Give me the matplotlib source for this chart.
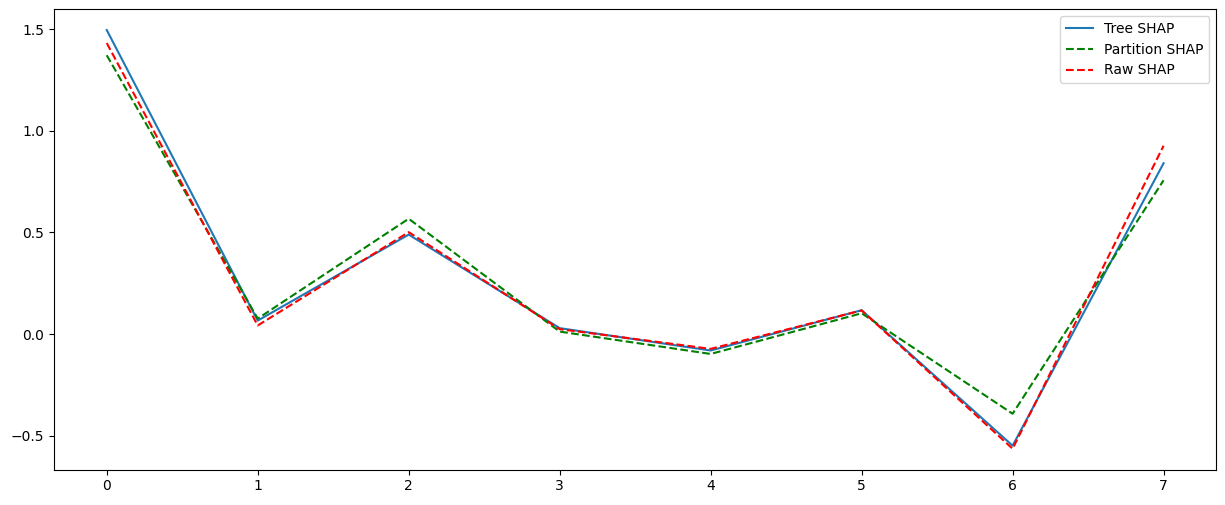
import matplotlib
matplotlib.use("Agg")
import matplotlib.pyplot as plt

# valores
features = list(range(8))
tree_shap = [1.495, 0.066, 0.489, 0.029, -0.081, 0.117, -0.549, 0.840]
partition_shap = [1.371, 0.076, 0.567, 0.012, -0.098, 0.102, -0.392, 0.756]
raw_shap = [1.431, 0.042, 0.501, 0.024, -0.073, 0.116, -0.564, 0.926]

fig, ax = plt.subplots(figsize=(12.25, 5.05), dpi=100)
fig.subplots_adjust(left=0.044, right=0.993, top=0.982, bottom=0.07)

ax.plot(features, tree_shap, label="Tree SHAP")
ax.plot(features, partition_shap, "g--", label="Partition SHAP")
ax.plot(features, raw_shap, "r--", label="Raw SHAP")
ax.legend()

fig.savefig("out.png")
